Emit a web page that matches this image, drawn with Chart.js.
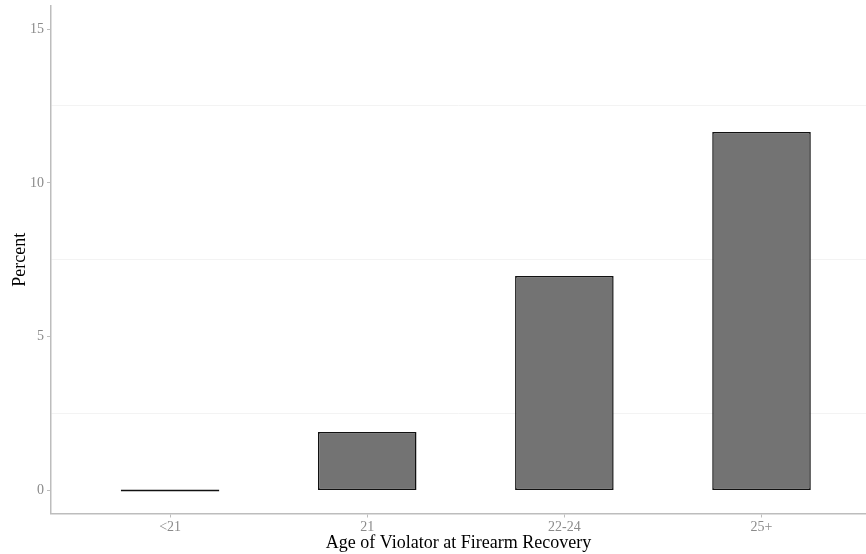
<!DOCTYPE html>
<html>
<head>
<meta charset="utf-8">
<script src="https://cdn.jsdelivr.net/npm/chart.js@4/dist/chart.umd.min.js"></script>
<style>
  html, body { margin: 0; padding: 0; background: #fff; }
</style>
</head>
<body>
<canvas id="ageChart" width="866" height="554"></canvas>
<script>
// - Dados

const categorias = ['<21', '21', '22-24', '25+']
const percentual = [0, 1.9, 6.97, 11.65]
const yTicks = [0, 5, 10, 15]
const yMinor = [2.5, 7.5, 12.5]

const serif = "'Liberation Serif', 'Times New Roman', serif"
const cinza = '#8a8a8a'
const eixo = '#bdbdbd'

const ageData = {
  datasets: [{
    label: 'Percent',
    data: percentual.map((v, i) => ({ x: i, y: v })),
    backgroundColor: '#737373',
    borderColor: '#111111',
    borderWidth: 1.5,
    borderSkipped: false,
    minBarLength: 2,
    barPercentage: 0.5,
    categoryPercentage: 1
  }]
};

const ageConfig = {
  type: 'bar',
  data: ageData,
  options: {
    responsive: false,
    animation: false,
    layout: { padding: { top: 6, right: 0, left: 0, bottom: 0 } },
    plugins: {
      legend: { display: false },
      tooltip: { enabled: false }
    },
    scales: {
      x: {
        type: 'linear',
        offset: false,
        min: -0.604,
        max: 3.53,
        afterBuildTicks: (s) => { s.ticks = categorias.map((c, i) => ({ value: i })) },
        afterFit: (s) => { s.height = 40.5; s.paddingLeft = 0; s.paddingRight = 0 },
        ticks: {
          callback: (v) => categorias[v],
          color: cinza,
          font: { family: serif, size: 14 },
          padding: 1,
          maxRotation: 0,
          autoSkip: false
        },
        grid: {
          offset: false,
          drawOnChartArea: false,
          tickLength: 4,
          tickColor: eixo,
          tickWidth: 1
        },
        border: { color: eixo, width: 1.5 },
        title: {
          display: true,
          text: 'Age of Violator at Firearm Recovery',
          color: '#000',
          font: { family: serif, size: 18 },
          padding: { top: 0, bottom: 0 }
        }
      },
      y: {
        min: -0.75,
        max: 15.75,
        afterBuildTicks: (s) => {
          s.ticks = yTicks.concat(yMinor).sort((a, b) => a - b).map(v => ({ value: v }))
        },
        afterFit: (s) => { s.width = 51; s.paddingTop = 0; s.paddingBottom = 0 },
        ticks: {
          callback: (v) => yTicks.includes(v) ? String(v) : '',
          color: cinza,
          font: { family: serif, size: 14 },
          padding: 3
        },
        grid: {
          color: (ctx) => yTicks.includes(ctx.tick && ctx.tick.value) ? 'rgba(0,0,0,0)' : '#f3f3f3',
          tickColor: (ctx) => yTicks.includes(ctx.tick && ctx.tick.value) ? eixo : 'rgba(0,0,0,0)',
          tickLength: 4,
          lineWidth: 1
        },
        border: { color: eixo, width: 1.5 },
        title: {
          display: true,
          text: 'Percent',
          color: '#000',
          font: { family: serif, size: 18 },
          padding: { top: 9, bottom: 0 }
        }
      }
    }
  }
};

const ageGrafico = new Chart(
  document.getElementById('ageChart'),
  ageConfig
);
</script>
</body>
</html>
